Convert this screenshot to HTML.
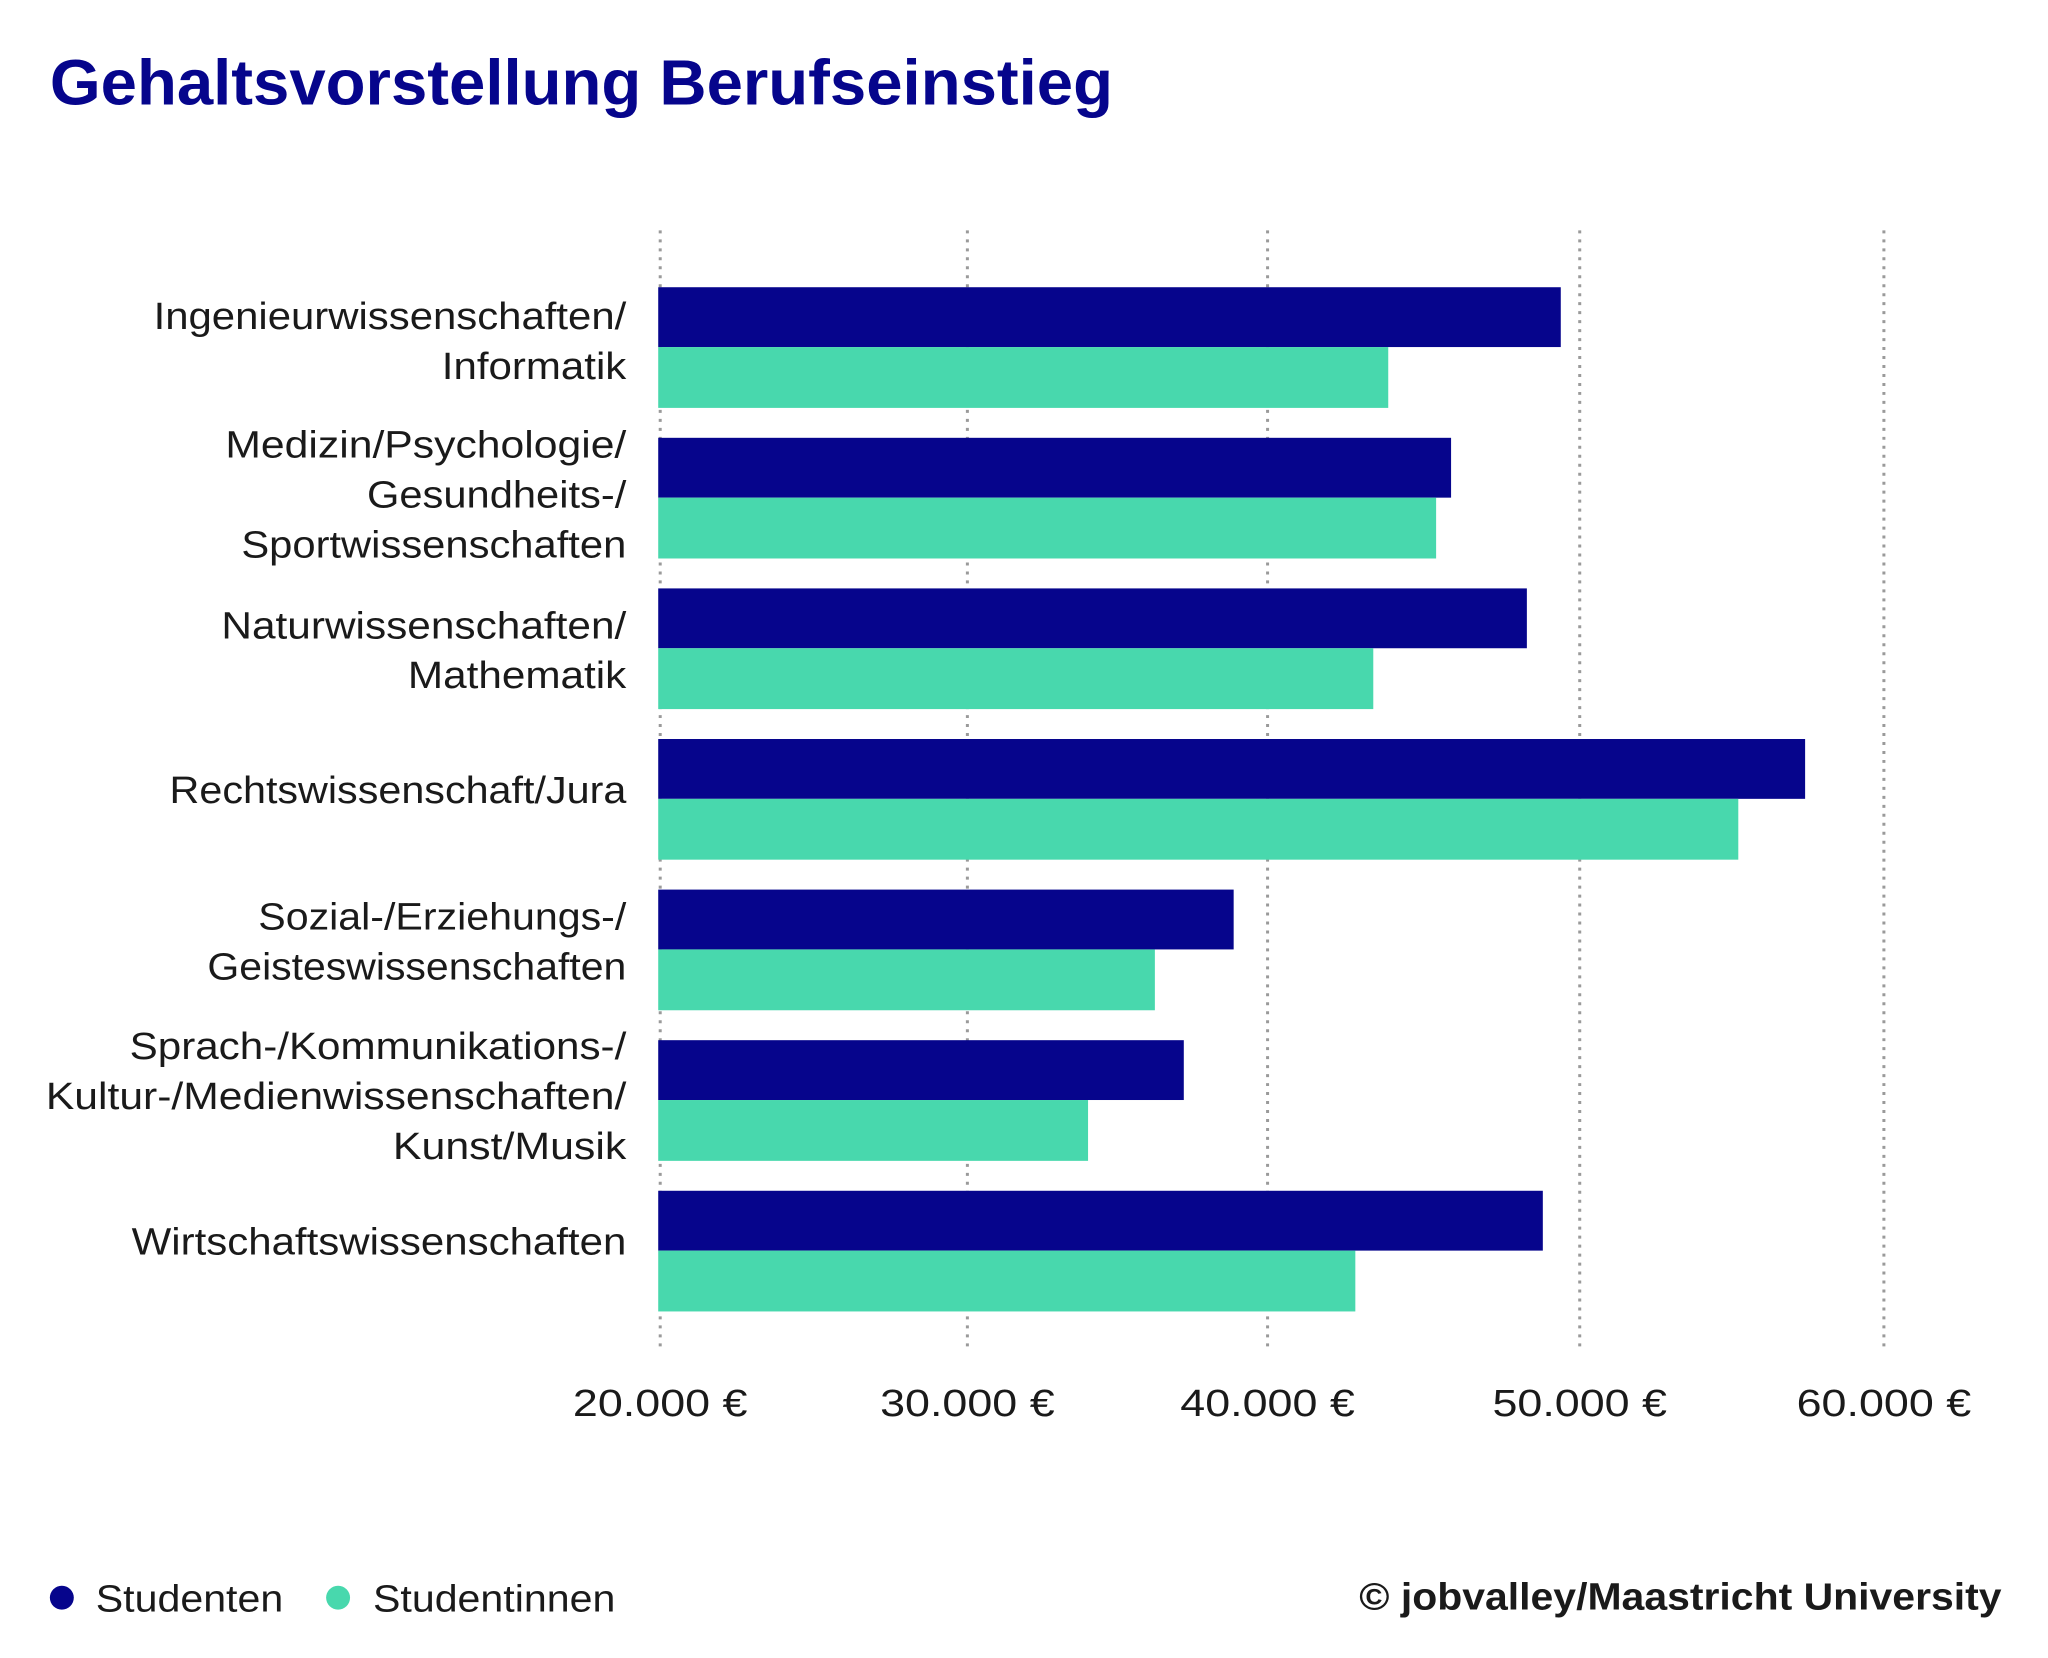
<!DOCTYPE html>
<html><head><meta charset="utf-8"><style>
html,body{margin:0;padding:0;background:#fff;}
svg{display:block;}
text{font-family:"Liberation Sans",sans-serif;}
</style></head><body>
<svg width="2048" height="1658" viewBox="0 0 2048 1658" xmlns="http://www.w3.org/2000/svg">
<rect width="2048" height="1658" fill="#fff"/>
<g transform="scale(0.9973)">
<text x="50" y="105" font-size="64" font-weight="bold" fill="#06058c" textLength="1066" lengthAdjust="spacingAndGlyphs">Gehaltsvorstellung Berufseinstieg</text>
<g stroke="#9a9a9a" stroke-width="3" stroke-dasharray="3,6">
<line x1="662" y1="231" x2="662" y2="1355"/>
<line x1="970" y1="231" x2="970" y2="1355"/>
<line x1="1271" y1="231" x2="1271" y2="1355"/>
<line x1="1584" y1="231" x2="1584" y2="1355"/>
<line x1="1889" y1="231" x2="1889" y2="1355"/>
</g>
<g>
<rect x="660" y="288" width="905" height="60" fill="#06058c"/><rect x="660" y="348" width="732" height="61" fill="#48d8ad"/>
<rect x="660" y="439" width="795" height="60" fill="#06058c"/><rect x="660" y="499" width="780" height="61" fill="#48d8ad"/>
<rect x="660" y="590" width="871" height="60" fill="#06058c"/><rect x="660" y="650" width="717" height="61" fill="#48d8ad"/>
<rect x="660" y="741" width="1150" height="60" fill="#06058c"/><rect x="660" y="801" width="1083" height="61" fill="#48d8ad"/>
<rect x="660" y="892" width="577" height="60" fill="#06058c"/><rect x="660" y="952" width="498" height="61" fill="#48d8ad"/>
<rect x="660" y="1043" width="527" height="60" fill="#06058c"/><rect x="660" y="1103" width="431" height="61" fill="#48d8ad"/>
<rect x="660" y="1194" width="887" height="60" fill="#06058c"/><rect x="660" y="1254" width="699" height="61" fill="#48d8ad"/>
</g>
<g font-size="38" fill="#1a1a1a" text-anchor="end">
<text x="628" y="330" textLength="474" lengthAdjust="spacingAndGlyphs">Ingenieurwissenschaften/</text>
<text x="628" y="380" textLength="185" lengthAdjust="spacingAndGlyphs">Informatik</text>
<text x="628" y="459" textLength="402" lengthAdjust="spacingAndGlyphs">Medizin/Psychologie/</text>
<text x="628" y="509" textLength="260" lengthAdjust="spacingAndGlyphs">Gesundheits-/</text>
<text x="628" y="559" textLength="386" lengthAdjust="spacingAndGlyphs">Sportwissenschaften</text>
<text x="628" y="640" textLength="406" lengthAdjust="spacingAndGlyphs">Naturwissenschaften/</text>
<text x="628" y="690" textLength="219" lengthAdjust="spacingAndGlyphs">Mathematik</text>
<text x="628" y="805" textLength="458" lengthAdjust="spacingAndGlyphs">Rechtswissenschaft/Jura</text>
<text x="628" y="932" textLength="369" lengthAdjust="spacingAndGlyphs">Sozial-/Erziehungs-/</text>
<text x="628" y="982" textLength="420" lengthAdjust="spacingAndGlyphs">Geisteswissenschaften</text>
<text x="628" y="1062" textLength="498" lengthAdjust="spacingAndGlyphs">Sprach-/Kommunikations-/</text>
<text x="628" y="1112" textLength="582" lengthAdjust="spacingAndGlyphs">Kultur-/Medienwissenschaften/</text>
<text x="628" y="1162" textLength="234" lengthAdjust="spacingAndGlyphs">Kunst/Musik</text>
<text x="628" y="1258" textLength="496" lengthAdjust="spacingAndGlyphs">Wirtschaftswissenschaften</text>
</g>
<g font-size="38" fill="#1a1a1a" text-anchor="middle">
<text x="662" y="1420" textLength="175" lengthAdjust="spacingAndGlyphs">20.000 €</text>
<text x="970" y="1420" textLength="175" lengthAdjust="spacingAndGlyphs">30.000 €</text>
<text x="1271" y="1420" textLength="175" lengthAdjust="spacingAndGlyphs">40.000 €</text>
<text x="1584" y="1420" textLength="175" lengthAdjust="spacingAndGlyphs">50.000 €</text>
<text x="1889" y="1420" textLength="175" lengthAdjust="spacingAndGlyphs">60.000 €</text>
</g>
<circle cx="62" cy="1602" r="12" fill="#06058c"/>
<text x="96" y="1616" font-size="38" fill="#1a1a1a" textLength="188" lengthAdjust="spacingAndGlyphs">Studenten</text>
<circle cx="339" cy="1602" r="12" fill="#48d8ad"/>
<text x="374" y="1616" font-size="38" fill="#1a1a1a" textLength="243" lengthAdjust="spacingAndGlyphs">Studentinnen</text>
<text x="1363" y="1614" font-size="38" font-weight="bold" fill="#1a1a1a" textLength="644" lengthAdjust="spacingAndGlyphs">© jobvalley/Maastricht University</text>
</g>
</svg>
</body></html>
